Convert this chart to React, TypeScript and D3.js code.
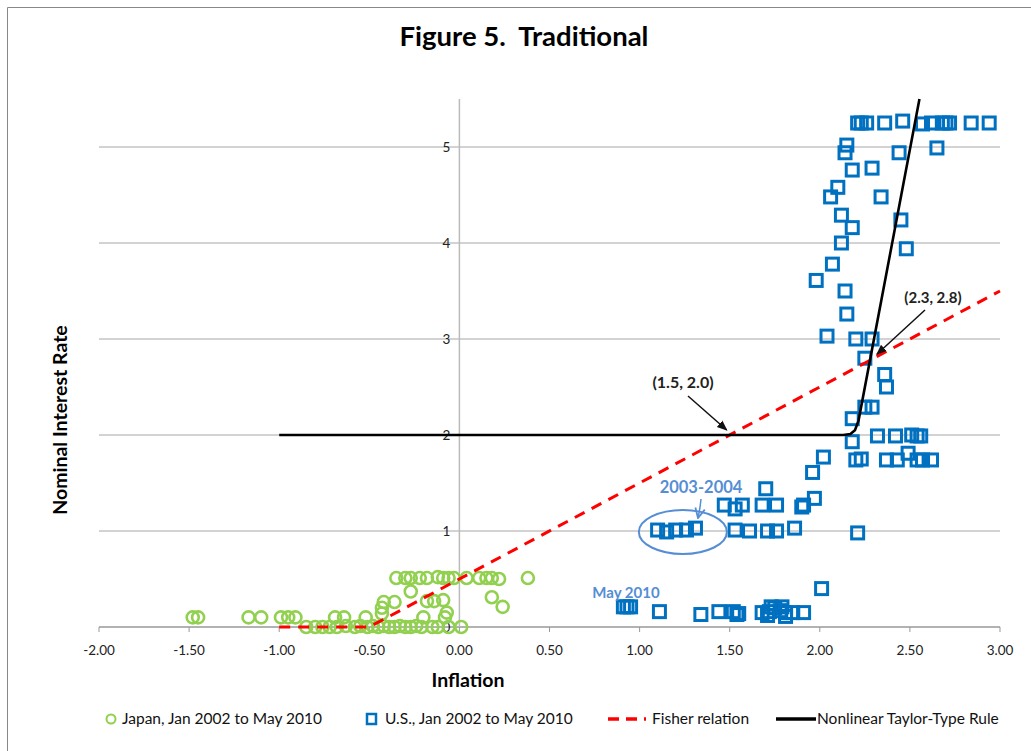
import React from 'react';
import * as d3 from 'd3';

const W = 1031;
const H = 751;
const margin = { left: 99, right: 31, top: 99, bottom: 124 };

const xTicks = [-2, -1.5, -1, -0.5, 0, 0.5, 1, 1.5, 2, 2.5, 3];
const yTicks = [0, 1, 2, 3, 4, 5];

// Japan, Jan 2002 to May 2010: [inflation, nominal rate]
const japanPoints: [number, number][] = [
  [-1.48, 0.1], [-1.45, 0.1], [-1.17, 0.1], [-1.1, 0.1], [-0.99, 0.1], [-0.95, 0.1], [-0.91, 0.1],
  [-0.69, 0.1], [-0.64, 0.1], [-0.52, 0.1], [-0.2, 0.1], [-0.08, 0.1],
  [-0.35, 0.51], [-0.3, 0.51], [-0.27, 0.51], [-0.22, 0.51], [-0.18, 0.51], [-0.12, 0.52],
  [-0.09, 0.51], [-0.06, 0.51], [-0.03, 0.51], [0.04, 0.51], [0.11, 0.51], [0.15, 0.51],
  [0.18, 0.51], [0.22, 0.5], [0.38, 0.51],
  [-0.27, 0.37],
  [-0.42, 0.26], [-0.36, 0.26], [-0.18, 0.27], [-0.14, 0.27], [-0.09, 0.28],
  [-0.43, 0.2], [-0.43, 0.14], [-0.07, 0.15], [0.18, 0.31], [0.24, 0.21],
  [-0.85, 0], [-0.8, 0], [-0.76, 0], [-0.72, 0], [-0.68, 0], [-0.63, 0.01], [-0.58, 0],
  [-0.55, 0.01], [-0.51, 0], [-0.48, 0.01], [-0.45, 0], [-0.42, 0.01], [-0.39, 0], [-0.36, 0],
  [-0.33, 0.01], [-0.3, 0], [-0.27, 0], [-0.24, 0.01], [-0.21, 0], [-0.15, 0], [-0.12, 0],
  [-0.06, 0], [0.01, 0],
];

// U.S., Jan 2002 to May 2010: [inflation, nominal rate]
const usPoints: [number, number][] = [
  [2.21, 5.25], [2.23, 5.25], [2.26, 5.25], [2.36, 5.25], [2.46, 5.27], [2.57, 5.24], [2.62, 5.25],
  [2.68, 5.25], [2.7, 5.25], [2.72, 5.25], [2.84, 5.25], [2.94, 5.25],
  [2.15, 5.02], [2.14, 4.94], [2.44, 4.94], [2.65, 4.99], [2.18, 4.76], [2.29, 4.78], [2.1, 4.58],
  [2.06, 4.48], [2.34, 4.48], [2.12, 4.29], [2.18, 4.16], [2.45, 4.24], [2.12, 4.0], [2.48, 3.94],
  [2.07, 3.78], [1.98, 3.61], [2.14, 3.5], [2.15, 3.26], [2.04, 3.03], [2.2, 3.0], [2.29, 3.0],
  [2.25, 2.8], [2.36, 2.63], [2.37, 2.5], [2.25, 2.29], [2.29, 2.29], [2.18, 2.17], [2.18, 1.93],
  [2.32, 1.99], [2.42, 1.99], [2.51, 2.0], [2.54, 1.99], [2.56, 1.99],
  [2.2, 1.74], [2.23, 1.75], [2.37, 1.74], [2.43, 1.74], [2.54, 1.74], [2.57, 1.74], [2.62, 1.74],
  [2.49, 1.81], [2.02, 1.77], [1.96, 1.61],
  [1.1, 1.01], [1.15, 0.99], [1.2, 1.01], [1.26, 1.01], [1.31, 1.03], [1.53, 1.01], [1.61, 1.0],
  [1.71, 1.0], [1.76, 1.0], [1.86, 1.03], [2.21, 0.98],
  [1.47, 1.27], [1.53, 1.23], [1.57, 1.27], [1.68, 1.27], [1.76, 1.27], [1.7, 1.44], [1.9, 1.25],
  [1.91, 1.27], [1.97, 1.34], [2.01, 0.4],
  [1.11, 0.16], [1.34, 0.13], [1.44, 0.16], [1.52, 0.16], [1.54, 0.13], [1.55, 0.14], [1.68, 0.15],
  [1.72, 0.16], [1.75, 0.2], [1.78, 0.17], [1.81, 0.15], [1.85, 0.15], [1.91, 0.15], [1.73, 0.21],
  [1.79, 0.21], [1.71, 0.12], [1.81, 0.11],
  [0.91, 0.21], [0.93, 0.21], [0.95, 0.21],
];

// Fisher relation: i = max(0, 0.5 + inflation)
const fisherLine: [number, number][] = [[-1.0, 0], [-0.5, 0], [3.0, 3.5]];

// Nonlinear Taylor-type rule
const taylorLine: [number, number][] = [
  [-1.0, 2.0], [2.13, 2.0], [2.17, 2.01], [2.195, 2.05], [2.215, 2.15], [2.553, 5.5],
];

const blue = '#0070C0';
const green = '#92D050';
const noteBlue = '#558ED5';
const font = 'Lato, "Open Sans", sans-serif';

export default function App() {
  const x = d3.scaleLinear().domain([-2, 3]).range([margin.left, W - margin.right]);
  const y = d3.scaleLinear().domain([0, 5.5]).range([H - margin.bottom, margin.top]);
  const line = d3.line<[number, number]>().x(d => x(d[0])).y(d => y(d[1]));
  const sq = 12;

  return (
    <svg width={W} height={H} style={{ position: 'absolute', left: 0, top: 0, background: '#fff' }} fontFamily={font}>
      <defs>
        <marker id="arr" viewBox="0 0 10 10" refX="9" refY="5" markerWidth="7" markerHeight="7" orient="auto">
          <path d="M0,1 L10,5 L0,9 z" fill="#111" />
        </marker>
        <marker id="arrBlue" viewBox="0 0 10 10" refX="9" refY="5" markerWidth="8" markerHeight="8" orient="auto">
          <path d="M1,1 L9,5 L1,9" fill="none" stroke={noteBlue} strokeWidth={1.5} />
        </marker>
      </defs>
      <path d={`M7.5,${H} V7.5 H${W}`} fill="none" stroke="#888" strokeWidth={1} />

      <text x={524} y={46} textAnchor="middle" fontSize={27.5} fontWeight="bold" fill="#000">
        Figure 5.{'\u00a0\u00a0'}Traditional
      </text>

      {/* gridlines */}
      {yTicks.filter(t => t > 0).map(t => (
        <line key={t} x1={x(-2)} x2={x(3)} y1={y(t)} y2={y(t)} stroke="#a6a6a6" strokeWidth={1} />
      ))}
      {/* axes */}
      <line x1={x(-2)} x2={x(3)} y1={y(0)} y2={y(0)} stroke="#999" strokeWidth={1.5} />
      <line x1={x(0)} x2={x(0)} y1={y(0)} y2={y(5.5)} stroke="#bbb" strokeWidth={1.5} />
      {xTicks.map(t => (
        <g key={t}>
          <line x1={x(t)} x2={x(t)} y1={y(0)} y2={y(0) + 5} stroke="#999" />
          <text x={x(t)} y={y(0) + 28} textAnchor="middle" fontSize={13.5} fill="#222">
            {d3.format('.2f')(t).replace('−', '-')}
          </text>
        </g>
      ))}
      {yTicks.map(t => (
        <text key={t} x={x(0) - 9} y={y(t) + 4.5} textAnchor="end" fontSize={13.5} fill="#222">{t}</text>
      ))}

      <text x={468} y={687} textAnchor="middle" fontSize={19.5} fontWeight="bold" fill="#000">Inflation</text>
      <text transform={`translate(67,${420}) rotate(-90)`} textAnchor="middle" fontSize={19.5} fontWeight="bold" fill="#000">
        Nominal Interest Rate
      </text>

      {/* Japan */}
      <g fill="none" stroke={green} strokeWidth={2.6}>
        {japanPoints.map((d, i) => (
          <circle key={i} cx={x(d[0])} cy={y(d[1])} r={6} />
        ))}
      </g>
      {/* US */}
      <g fill="none" stroke={blue} strokeWidth={3}>
        {usPoints.map((d, i) => (
          <rect key={i} x={x(d[0]) - sq / 2} y={y(d[1]) - sq / 2} width={sq} height={sq} />
        ))}
      </g>

      <path d={line(fisherLine) ?? ''} fill="none" stroke="#ff0000" strokeWidth={3} strokeDasharray="11,8" />
      <path d={line(taylorLine) ?? ''} fill="none" stroke="#000" strokeWidth={2.6} />

      {/* annotations */}
      <text x={683} y={388} textAnchor="middle" fontSize={16} fontWeight="bold" fill="#222">(1.5, 2.0)</text>
      <line x1={688} y1={396} x2={x(1.5) - 3} y2={y(2) - 5} stroke="#111" strokeWidth={1.5} markerEnd="url(#arr)" />
      <text x={933} y={303} textAnchor="middle" fontSize={15} fontWeight="bold" fill="#222">(2.3, 2.8)</text>
      <line x1={925} y1={310} x2={x(2.3) + 3} y2={y(2.8) - 4} stroke="#111" strokeWidth={1.5} markerEnd="url(#arr)" />

      <text x={701} y={493} textAnchor="middle" fontSize={16.5} fontWeight="bold" fill={noteBlue}>2003-2004</text>
      <path d="M701,499 Q700,509 698,518" fill="none" stroke={noteBlue} strokeWidth={1.5} markerEnd="url(#arrBlue)" />
      <ellipse cx={x(1.24)} cy={y(0.99)} rx={44} ry={22} fill="none" stroke={noteBlue} strokeWidth={2} />
      <text x={626} y={598} textAnchor="middle" fontSize={15} fontWeight="bold" fill={noteBlue}>May 2010</text>

      {/* legend */}
      <g fontSize={15.5} fill="#111">
        <circle cx={111} cy={719} r={4.5} fill="none" stroke={green} strokeWidth={2} />
        <text x={122} y={724}>Japan, Jan 2002 to May 2010</text>
        <rect x={367} y={714} width={9} height={10} fill="none" stroke={blue} strokeWidth={2.5} />
        <text x={385} y={724}>U.S., Jan 2002 to May 2010</text>
        <line x1={608} x2={646} y1={719} y2={719} stroke="#ff0000" strokeWidth={3.5} strokeDasharray="11,7" />
        <text x={652} y={724}>Fisher relation</text>
        <line x1={776} x2={816} y1={719} y2={719} stroke="#000" strokeWidth={3.5} />
        <text x={817} y={724}>Nonlinear Taylor-Type Rule</text>
      </g>
    </svg>
  );
}
